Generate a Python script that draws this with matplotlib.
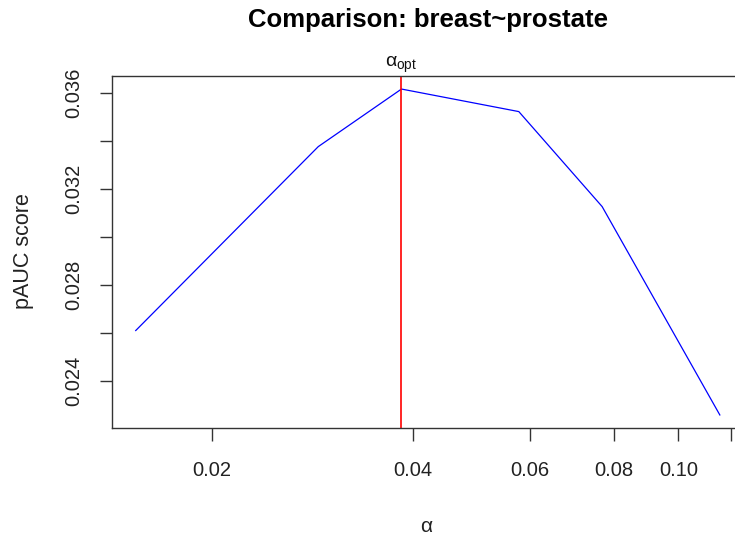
import matplotlib
matplotlib.use("Agg")
import matplotlib.pyplot as plt
from matplotlib.ticker import FixedLocator, FixedFormatter, NullLocator

plt.rcParams["font.family"] = ["Liberation Sans", "DejaVu Sans"]
plt.rcParams["mathtext.fontset"] = "custom"
plt.rcParams["mathtext.rm"] = "Liberation Sans"
plt.rcParams["mathtext.it"] = "Liberation Sans"

# pAUC score as a function of alpha (log x axis)
alpha = [0.0154, 0.0289, 0.0385, 0.0577, 0.0769, 0.1154]
pauc = [0.02610, 0.03377, 0.03617, 0.03523, 0.03127, 0.02258]
alpha_opt = 0.0385

xticks = [0.02, 0.04, 0.06, 0.08, 0.10, 0.12]
xtick_labels = ["0.02", "0.04", "0.06", "0.08", "0.10", ""]
yticks = [0.022, 0.024, 0.026, 0.028, 0.030, 0.032, 0.034, 0.036]
ytick_labels = ["", "0.024", "", "0.028", "", "0.032", "", "0.036"]

fig = plt.figure(figsize=(7.35, 5.38), dpi=100)
# plot box runs past the right edge of the picture, as in the reference
ax = fig.add_axes([112 / 735, 1 - 428 / 538, (743 - 112) / 735, (428 - 76) / 538])

ax.plot(alpha, pauc, color="#0000ff", lw=0.9)
ax.axvline(alpha_opt, color="#ff0000", lw=1.2)

ax.set_xscale("log")
ax.set_xlim(0.01419, 0.1250)
ax.set_ylim(0.022036, 0.036714)

ax.xaxis.set_major_locator(FixedLocator(xticks))
ax.xaxis.set_major_formatter(FixedFormatter(xtick_labels))
ax.xaxis.set_minor_locator(NullLocator())
ax.yaxis.set_major_locator(FixedLocator(yticks))
ax.yaxis.set_major_formatter(FixedFormatter(ytick_labels))

for s in ax.spines.values():
    s.set_color("#333333")
    s.set_linewidth(1.0)

ax.tick_params(axis="both", direction="out", length=9, width=1.0,
               color="#333333", labelsize=14.5, labelcolor="#222222")
ax.tick_params(axis="x", pad=15)
ax.tick_params(axis="y", pad=12)
for lab in ax.get_yticklabels():
    lab.set_rotation(90)
    lab.set_va("center")
    lab.set_ha("right")

ax.text(alpha_opt, 1.002, r"$\alpha_{\mathrm{opt}}$", transform=ax.get_xaxis_transform(),
        ha="center", va="bottom", fontsize=14, color="#111111")

fig.text(428 / 735, 1 - 20 / 538, "Comparison: breast~prostate", ha="center", va="center",
         fontsize=18.5, fontweight="bold")
fig.text(427 / 735, 1 - 526 / 538, r"$\alpha$", ha="center", va="center", fontsize=15,
         color="#222222")
fig.text(24 / 735, 1 - 251 / 538, "pAUC score", ha="center", va="center", rotation=90,
         fontsize=15.5, color="#222222")

fig.savefig("out.png", dpi=100)
